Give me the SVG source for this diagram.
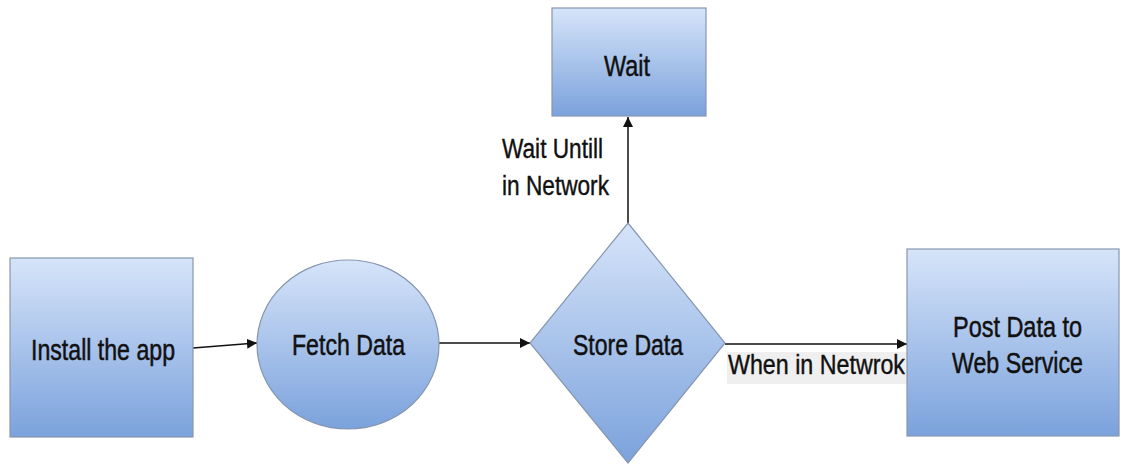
<svg xmlns="http://www.w3.org/2000/svg" width="1125" height="464" viewBox="0 0 1125 464">
  <defs>
    <linearGradient id="fill" x1="0" y1="0" x2="0" y2="1">
      <stop offset="0" stop-color="#d6e4f9"/>
      <stop offset="1" stop-color="#7ba2dc"/>
    </linearGradient>
    <marker id="arrow" viewBox="0 0 10 10" refX="10" refY="5" markerWidth="10" markerHeight="10" markerUnits="userSpaceOnUse" orient="auto">
      <path d="M0,0 L10,5 L0,10 z" fill="#111"/>
    </marker>
    <style>
      .shape { fill: url(#fill); stroke: #8797b0; stroke-width: 1.2; }
      .label { font-family: "Liberation Sans", Arial, sans-serif; font-size: 29px; fill: #111; stroke: #111; stroke-width: 0.5; }
      .edge-label { font-family: "Liberation Sans", Arial, sans-serif; font-size: 27px; fill: #111; stroke: #111; stroke-width: 0.4; }
      .edge { stroke: #111; stroke-width: 1.5; fill: none; marker-end: url(#arrow); }
    </style>
  </defs>
  <rect width="1125" height="464" fill="#ffffff"/>

  <g id="connectors">
    <line class="edge" x1="193" y1="348" x2="257" y2="343"/>
    <line class="edge" x1="439" y1="343" x2="530" y2="343"/>
    <line class="edge" x1="628" y1="223" x2="628" y2="117"/>
    <line class="edge" x1="725" y1="344" x2="907" y2="344"/>
    <rect x="727" y="352" width="180" height="32" fill="#efefef"/>
    <text class="edge-label" x="728" y="374" textLength="177" lengthAdjust="spacingAndGlyphs">When in Netwrok</text>
    <text class="edge-label" x="502" y="158" textLength="101" lengthAdjust="spacingAndGlyphs">Wait Untill</text>
    <text class="edge-label" x="502" y="195" textLength="107" lengthAdjust="spacingAndGlyphs">in Network</text>
  </g>

  <g id="install">
    <rect class="shape" x="10" y="258" width="183" height="179"/>
    <text class="label" x="31" y="360" textLength="144" lengthAdjust="spacingAndGlyphs">Install the app</text>
  </g>

  <g id="fetch">
    <ellipse class="shape" cx="348" cy="344.5" rx="91" ry="84.5"/>
    <text class="label" x="292" y="355" textLength="113" lengthAdjust="spacingAndGlyphs">Fetch Data</text>
  </g>

  <g id="store">
    <polygon class="shape" points="628,223 725,343 628,463 530,343"/>
    <text class="label" x="573" y="355" textLength="110" lengthAdjust="spacingAndGlyphs">Store Data</text>
  </g>

  <g id="wait">
    <rect class="shape" x="552" y="8" width="154" height="108"/>
    <text class="label" x="604" y="76" textLength="46" lengthAdjust="spacingAndGlyphs">Wait</text>
  </g>

  <g id="post">
    <rect class="shape" x="907" y="249" width="212" height="187"/>
    <text class="label" x="953" y="337" textLength="129" lengthAdjust="spacingAndGlyphs">Post Data to</text>
    <text class="label" x="952" y="373" textLength="131" lengthAdjust="spacingAndGlyphs">Web Service</text>
  </g>
</svg>
